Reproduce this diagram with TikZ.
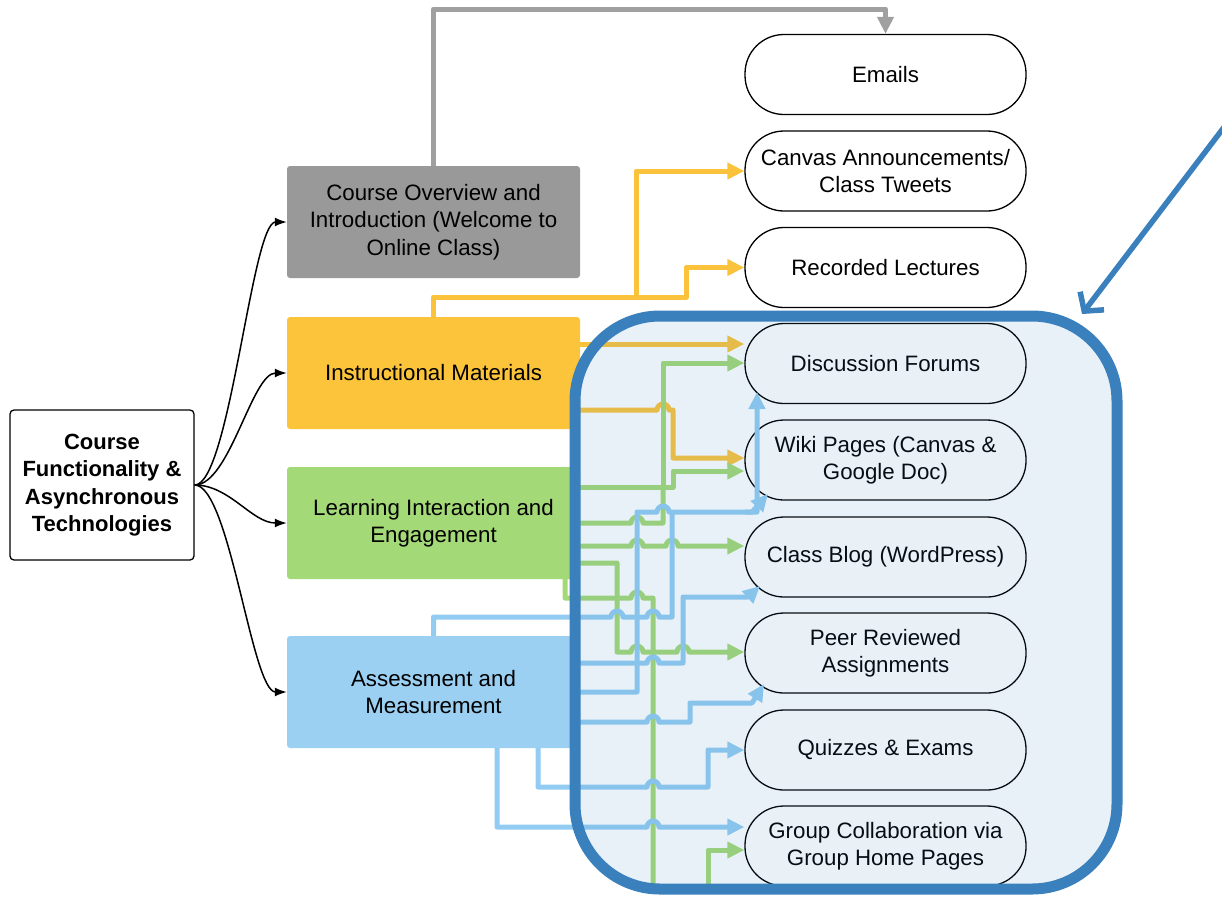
\documentclass[tikz,border=0pt]{standalone}
\usepackage{fontspec}
\setmainfont{Liberation Sans}
\usetikzlibrary{arrows.meta}
\definecolor{cgray}{HTML}{999999}
\definecolor{lgray}{HTML}{A0A0A0}
\definecolor{cyel}{HTML}{FCC43B}
\definecolor{lyel}{HTML}{FBC33C}
\definecolor{cgrn}{HTML}{A4D977}
\definecolor{lgrn}{HTML}{A3D977}
\definecolor{cblu}{HTML}{9BD0F2}
\definecolor{lblu}{HTML}{92CCF2}
\definecolor{cbox}{HTML}{3A80BC}
\begin{document}
\begin{tikzpicture}[x=1pt,y=-1pt,
  txt/.style={font=\fontsize{22.3}{27.5}\selectfont, align=center, text=black},
  cat/.style={txt, rectangle, rounded corners=3pt, minimum width=293pt, minimum height=112pt, inner sep=0pt},
  tech/.style={txt, rectangle, draw=black, line width=1.3pt, fill=white, rounded corners=39pt, minimum width=281pt, minimum height=80pt, inner sep=0pt},
  link/.style={line width=5pt, line join=round, -{Triangle[length=17pt,width=16pt]}},
  plain/.style={line width=5pt, line join=round},
  branch/.style={-{Latex[length=12pt,width=9pt]}, line width=1.5pt, black},
]
\useasboundingbox (0,0) rectangle (1222,898);

% root and the four categories
\node[txt, draw=black, line width=1.3pt, rounded corners=4pt, minimum width=184pt, minimum height=150pt, fill=white, inner sep=0pt,
      font=\fontsize{22}{27.5}\selectfont\bfseries] (root) at (102,485)
  {Course\\Functionality \&\\Asynchronous\\Technologies};
\node[cat, fill=cgray] (ov) at (433.5,222) {Course Overview and\\Introduction (Welcome to\\Online Class)};
\node[cat, fill=cyel] (im) at (433.5,373) {Instructional Materials};
\node[cat, fill=cgrn] (le) at (433.5,523) {Learning Interaction and\\Engagement};
\node[cat, fill=cblu] (am) at (433.5,692) {Assessment and\\Measurement};

% technologies
\node[tech] (em) at (885.5,74.5) {Emails};
\node[tech] (ca) at (885.5,171) {Canvas Announcements/\\Class Tweets};
\node[tech] (rl) at (885.5,267.5) {Recorded Lectures};
\node[tech] (df) at (885.5,363.5) {Discussion Forums};
\node[tech] (wk) at (885.5,460) {Wiki Pages (Canvas \&\\Google Doc)};
\node[tech] (cb) at (885.5,557) {Class Blog (WordPress)};
\node[tech] (pr) at (885.5,653) {Peer Reviewed\\Assignments};
\node[tech] (qe) at (885.5,750) {Quizzes \& Exams};
\node[tech] (gc) at (885.5,846) {Group Collaboration via\\Group Home Pages};

% branches from the root
\foreach \t in {ov,im,le,am}
  \draw[branch] (root.east) .. controls +(35,0) and +(-35,0) .. (\t.west);

% entry points on the lower rims
\coordinate (dfin) at (757,392);
\coordinate (wkin) at (768,494);
\coordinate (cbin) at (760,586);
\coordinate (prin) at (764,684);

% overview
\draw[link, lgray] (ov.north) -- (433.5,9) -| (em.north);

% instructional materials
\coordinate (ysplit) at (636,297);
\draw[link, lyel] (im.north) |- (ysplit) |- (ca.west);
\draw[link, lyel] (ysplit) -- (686,297) |- (rl.west);
\draw[link, lyel] (im.east |- 0,344) -- (df.west |- 0,344);
\draw[link, lyel] (im.east |- 0,410) -- (657,410) arc[start angle=180,end angle=360,radius=6] -- (673,410) |- (wk.west |- 0,458);

% learning interaction and engagement
\coordinate (gj) at (663,487);
\draw[link, lgrn] (le.east |- 0,487) -| (663,363) -- (df.west |- 0,363);
\draw[link, lgrn] (gj) -- (673,487) |- (wk.west |- 0,471);
\draw[plain, lgrn] (le.east |- 0,523) -- (631,523) arc[start angle=180,end angle=360,radius=6] -- (663,523) -- (gj);
\draw[link, lgrn] (le.east |- 0,546) -- (631,546) arc[start angle=180,end angle=360,radius=6]
  -- (666,546) arc[start angle=180,end angle=360,radius=6] -- (cb.west |- 0,546);
\draw[link, lgrn] (le.east |- 0,563) -| (617,652) -- (631,652) arc[start angle=180,end angle=360,radius=6]
  -- (677,652) arc[start angle=180,end angle=360,radius=6] -- (pr.west |- 0,652);
\draw[plain, lgrn] (le.south -| 565,0) -- (565,598) -- (631,598) arc[start angle=180,end angle=360,radius=6] -- (653,598) -- (653,893);
\draw[link, lgrn] (708,893) |- (gc.west |- 0,850);

% assessment and measurement
\coordinate (bj) at (757,512);
\draw[plain, lblu] (am.north) |- (611,617) arc[start angle=180,end angle=360,radius=6]
  -- (647,617) arc[start angle=180,end angle=360,radius=6] -- (672,617) -- (672,512);
\draw[link, lblu] (am.east |- 0,692) -| (637,512) -- (657,512) arc[start angle=180,end angle=360,radius=6] -- (bj) -- (dfin);
\draw[link, lblu] (745,512) -- (752,512) -- (wkin);
\draw[link, lblu] (am.east |- 0,663) -- (647,663) arc[start angle=180,end angle=360,radius=6] -| (683,597) -- (748,597) -- (cbin);
\draw[link, lblu] (am.east |- 0,722) -- (647,722) arc[start angle=180,end angle=360,radius=6] -- (690,722) |- (752,703) -- (prin);
\draw[link, lblu] (am.south -| 538,0) |- (647,787) arc[start angle=180,end angle=360,radius=6] -- (708,787) |- (qe.west);
\draw[link, lblu] (am.south -| 497,0) |- (647,827) arc[start angle=180,end angle=360,radius=6] -- (gc.west |- 0,827);

% highlighted group
\fill[cbox, fill opacity=0.11, rounded corners=85pt] (575,316) rectangle (1117,889);
\draw[cbox, line width=11pt, rounded corners=85pt] (575,316) rectangle (1117,889);

% pointer
\coordinate (ptr) at (1228,122);
\coordinate (ptrtip) at (1082,314);
\draw[cbox, line width=5.5pt, -{Straight Barb[length=13pt,width=30pt]}] (ptr) -- (ptrtip);
\end{tikzpicture}
\end{document}
